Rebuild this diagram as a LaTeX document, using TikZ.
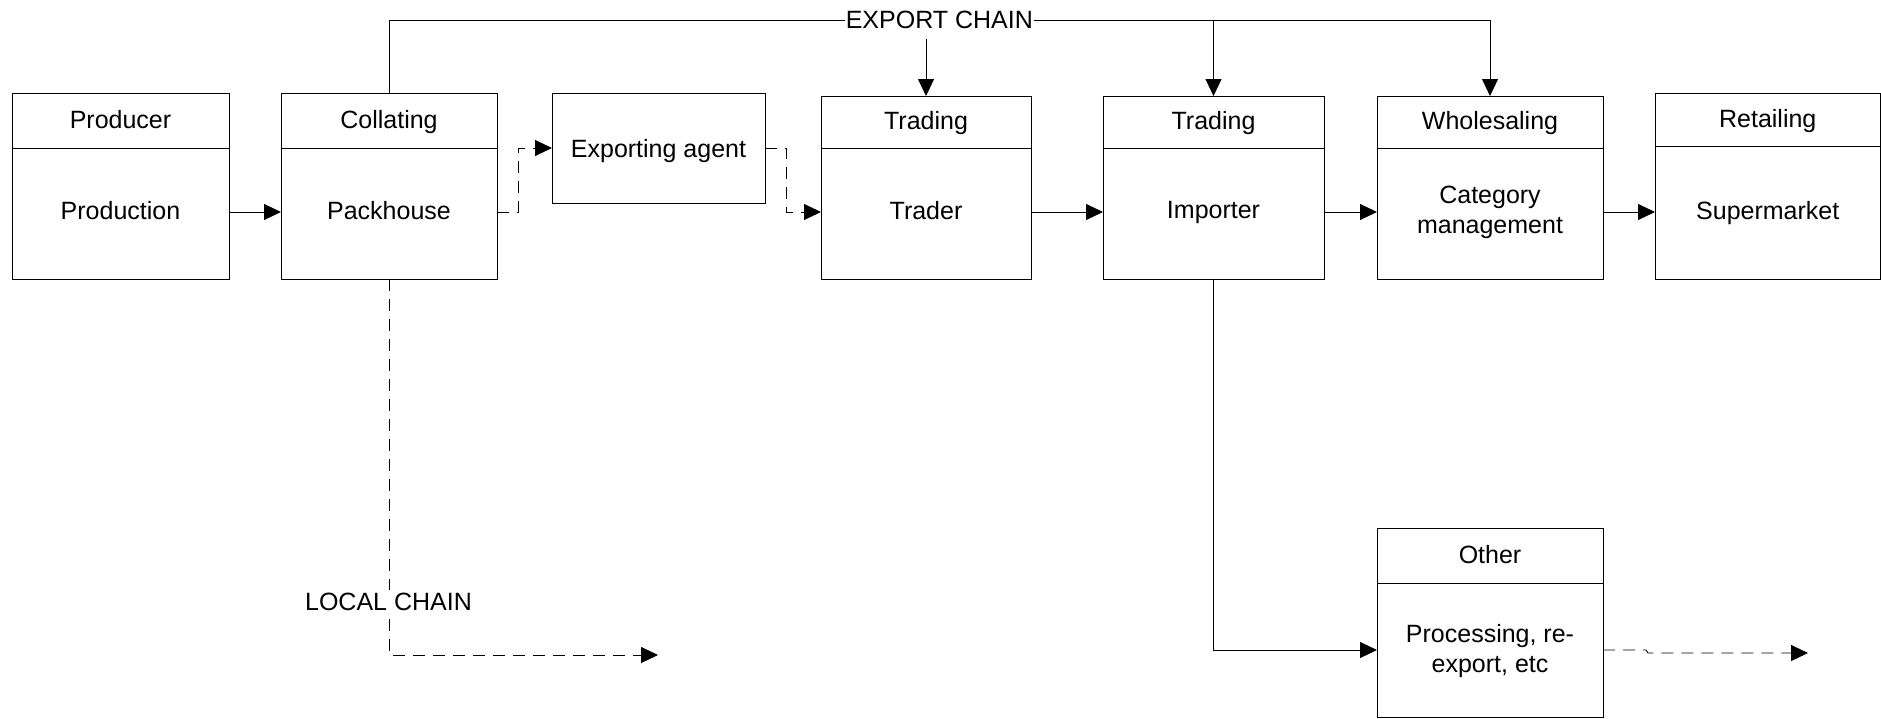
\documentclass[tikz,border=0pt]{standalone}
\usepackage{fontspec}
\setmainfont{Liberation Sans}
\usetikzlibrary{arrows.meta,calc}
\tikzset{
  ln/.style={line width=0.9pt, draw=black},
  box/.style={ln, rectangle, inner sep=0pt, outer sep=0pt, anchor=north west},
  txt/.style={font=\fontsize{25pt}{30pt}\selectfont, inner sep=1pt, align=center, text depth=0pt},
  arr/.style={ln, -{Triangle[length=17pt,width=16pt]}},
  dasharr/.style={arr, dash pattern=on 12pt off 8pt},
}
% name, x1, y1, x2, y2, divider, header, body, body-y
\newcommand\twobox[9]{%
  \node[box, minimum width={(#4-#2)*1pt}, minimum height={(#5-#3)*1pt}] (#1) at (#2,#3) {};
  \draw[ln] (#1.west |- 0,#6) -- (#1.east |- 0,#6);
  \node[txt] (#1h) at ({(#2+#4)/2},{(#3+#6)/2-1.5}) {#7};
  \node[txt] (#1b) at ({(#2+#4)/2},#9) {#8};
}
\begin{document}
\begin{tikzpicture}[x=1pt,y=-1pt]
\useasboundingbox (0,0) rectangle (1881,718);
\twobox{prod}{12}{93}{229}{279}{148}{Producer}{Production}{210}
\twobox{coll}{281}{93}{497}{279}{148}{Collating}{Packhouse}{210}
\node[box, minimum width=213pt, minimum height=110pt] (exp) at (552,93) {};
\node[txt] (expb) at (658.5,148) {Exporting agent};
\twobox{trad}{821}{96}{1031}{279}{148}{Trading}{Trader}{210}
\twobox{imp}{1103}{96}{1324}{279}{148}{Trading}{Importer}{210}
\twobox{whol}{1377}{96}{1603}{279}{148}{Wholesaling}{Category\\management}{210}
\twobox{ret}{1655}{93}{1880.5}{279}{146}{Retailing}{Supermarket}{210}
\twobox{oth}{1377}{528}{1603}{717}{583}{Other}{Processing, re-\\export, etc}{648}

% export chain
\node[txt, inner xsep=1pt] (exlab) at (939.3,20) {EXPORT CHAIN};
\coordinate (tradsrc) at (926,39);
\draw[ln] (coll.north) |- (exlab.west);
\draw[arr] (exlab.east) -| (whol.north);
\draw[arr] (imp.north |- exlab) -- (imp.north);
\draw[arr] (tradsrc) -- (trad.north);

% main chain
\coordinate (mainy) at (0,212);
\draw[arr] (prod.east |- mainy) -- (coll.west |- mainy);
\draw[dasharr] (coll.east |- mainy) -- ++(21,0) |- (exp.west);
\draw[dasharr] (exp.east) -- ++(21,0) |- (trad.west |- mainy);
\draw[arr] (trad.east |- mainy) -- (imp.west |- mainy);
\draw[arr] (imp.east |- mainy) -- (whol.west |- mainy);
\draw[arr] (whol.east |- mainy) -- (ret.west |- mainy);

% local chain
\coordinate (localend) at (658,655);
\draw[dasharr] (coll.south) |- (localend);
\node[txt, fill=white, inner sep=3pt] (loclab) at (388.5,602) {LOCAL CHAIN};

% importer to other
\coordinate (othy) at (0,650);
\draw[arr] (imp.south) |- (oth.west |- othy);
\coordinate (othend) at (1808,653);
\draw[dasharr] (oth.east |- othy) -- ++(43,0) -- ++(2,3) -- (othend);
\end{tikzpicture}
\end{document}
